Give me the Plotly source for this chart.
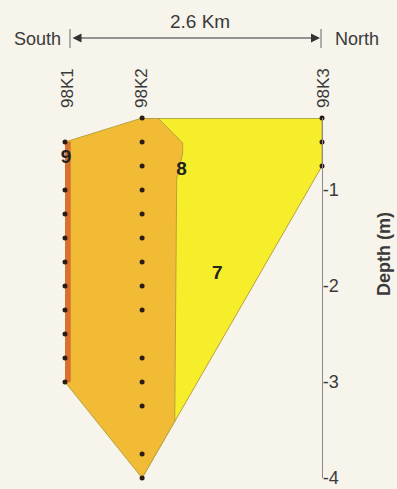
import plotly.graph_objects as go

# Boreholes along the south-north transect (distance in km, depth in m)
wells = ["98K1", "98K2", "98K3"]
well_km = [0.0, 0.78, 2.6]
samples_98k1 = [-0.5, -1.0, -1.25, -1.5, -1.75, -2.0, -2.25, -2.5, -2.75, -3.0]
samples_98k2 = [-0.25, -0.5, -0.75, -1.0, -1.25, -1.5, -1.75, -2.0, -2.25,
                -2.75, -3.0, -3.25, -3.75, -4.0]
samples_98k3 = [-0.25, -0.5, -0.75]

# Stratigraphic units (outline vertices)
unit7_km = [0.78, 2.6, 2.6, 0.78]
unit7_depth = [-0.25, -0.25, -0.75, -4.0]
unit8_km = [0.0, 0.78, 0.94, 1.19, 1.19, 1.13, 1.11, 0.78, 0.0]
unit8_depth = [-0.5, -0.25, -0.25, -0.51, -0.62, -0.88, -3.41, -4.0, -3.0]
unit9_km = [0.0, 0.055, 0.055, 0.0]
unit9_depth = [-0.5, -0.5, -3.0, -3.0]
unit_labels = ["9", "8", "7"]
unit_label_km = [0.01, 1.18, 1.54]
unit_label_depth = [-0.67, -0.79, -1.88]

depth_ticks = [-1, -2, -3, -4]
depth_ticktext = ["-1", "-2", "-3", "-4"]

BG = "#f7f4ec"
FONT = "Liberation Sans, Arial, sans-serif"
EDGE = "#b8a23e"
TXT = "#3a3a3a"

fig = go.Figure()

fig.add_trace(go.Scatter(x=unit7_km, y=unit7_depth, fill="toself", mode="lines",
                         fillcolor="#f6ee2a", line=dict(color=EDGE, width=1),
                         hoverinfo="skip"))
fig.add_trace(go.Scatter(x=unit8_km, y=unit8_depth, fill="toself", mode="lines",
                         fillcolor="#f1bb36", line=dict(color=EDGE, width=1),
                         hoverinfo="skip"))
fig.add_trace(go.Scatter(x=unit9_km, y=unit9_depth, fill="toself", mode="lines",
                         fillcolor="#d9702f", line=dict(color="#d9702f", width=0.5),
                         hoverinfo="skip"))
# top surface line between 98K2 and 98K3
fig.add_trace(go.Scatter(x=[well_km[1], well_km[2]], y=[-0.25, -0.25], mode="lines",
                         line=dict(color="#8c8a55", width=1.2), hoverinfo="skip"))

for km, depths in zip(well_km, [samples_98k1, samples_98k2, samples_98k3]):
    fig.add_trace(go.Scatter(x=[km] * len(depths), y=depths, mode="markers",
                             marker=dict(color="#2b1d12", size=5),
                             cliponaxis=False, hoverinfo="skip"))

fig.add_trace(go.Scatter(x=unit_label_km, y=unit_label_depth, mode="text",
                         text=unit_labels, cliponaxis=False,
                         textfont=dict(family=FONT, size=19, color="#222222", weight="bold"),
                         hoverinfo="skip"))

PLOT_W = 322.0
PLOT_TOP = 118.0
PLOT_BOT = 478.0


def px(xp):
    return xp / PLOT_W


def py(yp):
    return (PLOT_BOT - yp) / (PLOT_BOT - PLOT_TOP)


def label(text, xp, yp, size, angle=0, bold=False):
    return dict(x=px(xp), y=py(yp), xref="paper", yref="paper", text=text,
                textangle=angle, showarrow=False, xanchor="center", yanchor="middle",
                font=dict(family=FONT, size=size, color=TXT,
                          weight="bold" if bold else "normal"))


annotations = [label(name, xp, 88, 17, angle=-90)
               for name, xp in zip(wells, [67, 141, 323])]
annotations += [
    label("2.6 Km", 200, 21, 19),
    label("South", 37, 39, 18),
    label("North", 357, 39, 18),
    label("Depth (m)", 384, 254, 18, angle=-90, bold=True),
    dict(x=px(320), y=py(38), xref="paper", yref="paper", ax=-249, ay=0,
         text="", showarrow=True, arrowside="end+start", arrowhead=2,
         arrowsize=1.8, arrowwidth=1, arrowcolor="#333333"),
]

shapes = [
    dict(type="line", xref="paper", yref="paper", x0=px(70), x1=px(70),
         y0=py(29), y1=py(48), line=dict(color="#666666", width=1)),
    dict(type="line", xref="paper", yref="paper", x0=px(321), x1=px(321),
         y0=py(29), y1=py(48), line=dict(color="#666666", width=1)),
]

fig.update_layout(
    width=397, height=489,
    margin=dict(l=0, r=397 - PLOT_W, t=PLOT_TOP, b=489 - PLOT_BOT, pad=0),
    paper_bgcolor=BG, plot_bgcolor=BG,
    showlegend=False,
    annotations=annotations, shapes=shapes,
    xaxis=dict(range=[-65 / 98.8, 2.6], visible=False, fixedrange=True),
    yaxis=dict(range=[-4.0, -0.25], side="right", showgrid=False, zeroline=False,
               showline=True, linecolor="#8a8a8a", linewidth=1.2,
               ticks="", tickvals=depth_ticks, ticktext=depth_ticktext,
               tickfont=dict(family=FONT, size=18, color=TXT),
               ticklabelstandoff=-4, fixedrange=True),
)

fig.write_html("out.html", config={"displayModeBar": False})
